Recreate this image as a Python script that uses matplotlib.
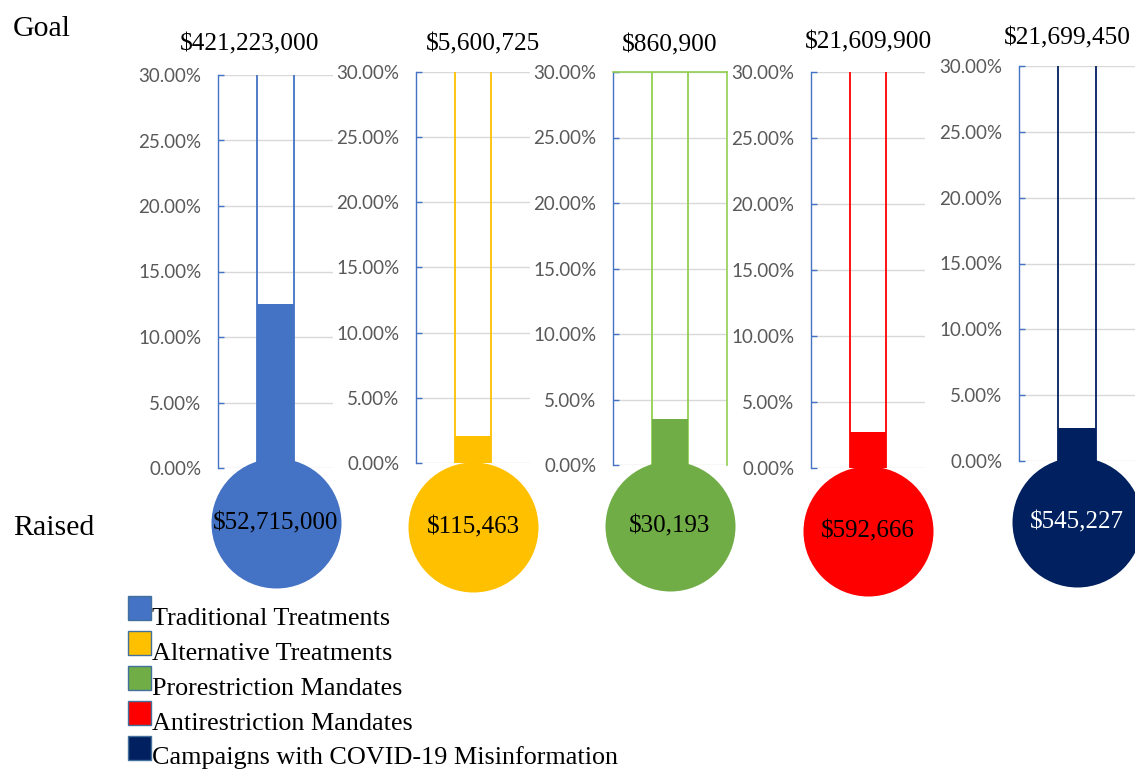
import matplotlib
matplotlib.use("Agg")
import matplotlib.pyplot as plt
from matplotlib.patches import Patch, Rectangle
from matplotlib.legend_handler import HandlerPatch
from matplotlib.ticker import FuncFormatter, MultipleLocator
from matplotlib.transforms import offset_copy

# ---- data ----
categories = ["Traditional Treatments", "Alternative Treatments",
              "Prorestriction Mandates", "Antirestriction Mandates",
              "Campaigns with COVID-19 Misinformation"]
goals = [421223000, 5600725, 860900, 21609900, 21699450]
raised = [52715000, 115463, 30193, 592666, 545227]
y_max = 0.30
y_step = 0.05

# ---- style ----
fill_colors = ["#4472C4", "#FFC000", "#70AD47", "#FF0000", "#002060"]
edge_colors = ["#4472C4", "#FFC000", "#92D050", "#FF0000", "#002060"]
label_colors = ["black", "black", "black", "black", "white"]
SERIF = "Liberation Serif"
TICKFONT = "Lato"

W, H = 1135, 769
fig = plt.figure(figsize=(W / 100, H / 100), dpi=100)
fig.patch.set_facecolor("white")

# axes boxes in pixels: left, right, top, bottom
boxes = [(218, 333, 75, 468), (416, 530, 72, 463), (613, 727, 72, 465),
         (811, 925, 72, 468), (1019, 1135, 66, 461)]
bulb_offsets = [55, 64, 61, 63, 61]
title_pos = [(250, 50), (483, 50), (670, 51), (869, 48), (1067, 44)]

pct_fmt = FuncFormatter(lambda v, p: f"{v * 100:.2f}%")
bar_w = 0.32

for i, (l, r, t, b) in enumerate(boxes):
    ax = fig.add_axes([l / W, 1 - b / H, (r - l) / W, (b - t) / H])
    ax.set_facecolor("none")
    ax.set_xlim(-0.5, 0.5)
    ax.set_ylim(0, y_max)
    ax.yaxis.set_major_locator(MultipleLocator(y_step))
    ax.yaxis.set_major_formatter(pct_fmt)
    ax.set_xticks([])
    ax.grid(axis="y", color="#D9D9D9", lw=1.0)
    ax.set_axisbelow(True)
    for s in ["top", "right", "bottom"]:
        ax.spines[s].set_visible(False)
    ax.spines["left"].set_color("#4472C4")
    ax.spines["left"].set_linewidth(1.0)
    if i == 2:
        for s in ["top", "right"]:
            ax.spines[s].set_visible(True)
            ax.spines[s].set_color(edge_colors[i])
            ax.spines[s].set_linewidth(1.2)
    ax.tick_params(axis="y", direction="in", length=4, width=1,
                   color="#4472C4", labelcolor="#595959", labelsize=13.5, pad=12)
    for lab in ax.get_yticklabels():
        lab.set_family(TICKFONT)

    pct = raised[i] / goals[i]
    # tube outline
    ax.vlines([-bar_w / 2, bar_w / 2], 0, y_max, color=edge_colors[i], lw=1.3, zorder=3)
    # mercury
    ax.bar(0, pct, width=bar_w, color=fill_colors[i], zorder=4)

    # bulb
    tr = offset_copy(ax.transData, fig=fig, x=0, y=-bulb_offsets[i], units="dots")
    ax.plot(0, 0, "o", ms=130 * 72 / 100, color=fill_colors[i], mew=0,
            transform=tr, clip_on=False, zorder=5)
    ax.text(0, 0, f"${raised[i]:,}", transform=tr, ha="center", va="center",
            fontsize=18, family=SERIF, color=label_colors[i], zorder=6)

    # goal
    tx, ty = title_pos[i]
    fig.text(tx / W, 1 - ty / H, f"${goals[i]:,}", ha="center", va="baseline",
             fontsize=18.3, family=SERIF, color="black")

fig.text(13 / W, 1 - 36 / H, "Goal", ha="left", va="baseline",
         fontsize=21.5, family=SERIF)
fig.text(13 / W, 1 - 535 / H, "Raised", ha="left", va="baseline",
         fontsize=21.5, family=SERIF)


def raised_square(legend, orig_handle, xdescent, ydescent, width, height, fontsize):
    # square sits a little higher than the text line, as in the reference
    return Rectangle((-xdescent, -ydescent + 5.5), width, height)


handles = [Patch(facecolor=c, edgecolor="#41719C", lw=1.0) for c in fill_colors]
fig.legend(handles, categories, loc="upper left",
           bbox_to_anchor=(128 / W, 1 - 604 / H), frameon=False,
           prop={"family": SERIF, "size": 18.8}, handlelength=0.88,
           handleheight=1.02, handletextpad=0.05, labelspacing=0.35,
           borderpad=0, borderaxespad=0,
           handler_map={Patch: HandlerPatch(patch_func=raised_square)})

fig.savefig("out.png", dpi=100, facecolor="white")
